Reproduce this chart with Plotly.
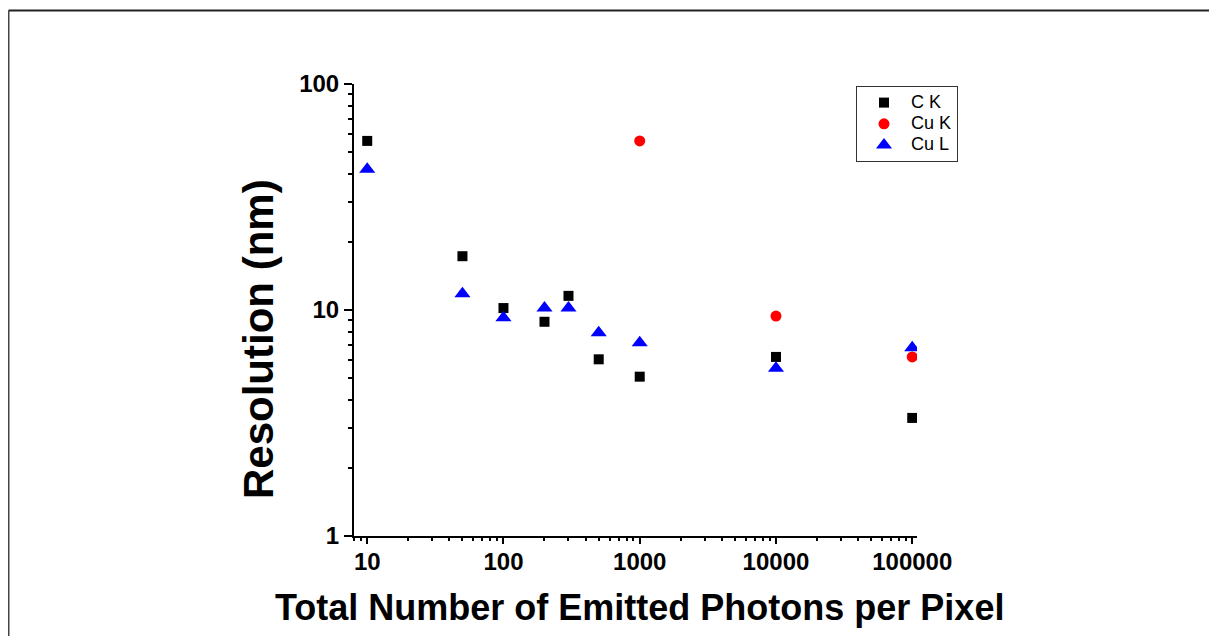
import plotly.graph_objects as go

# ---- data ----
ck_x = [10, 50, 100, 200, 300, 500, 1000, 10000, 100000]
ck_y = [56, 17.3, 10.2, 8.87, 11.55, 6.05, 5.07, 6.2, 3.33]

cuk_x = [1000, 10000, 100000]
cuk_y = [56, 9.4, 6.2]

cul_x = [10, 50, 100, 200, 300, 500, 1000, 10000, 100000]
cul_y = [42, 11.8, 9.25, 10.2, 10.2, 7.94, 7.16, 5.53, 6.8]

series_names = ["C K", "Cu K", "Cu L"]

x_tickvals = [10, 100, 1000, 10000, 100000]
x_ticktext = ["10", "100", "1000", "10000", "100000"]
y_tickvals = [1, 10, 100]
y_ticktext = ["1", "10", "100"]

FONT = "Liberation Sans, Arial, sans-serif"

OFF = 8  # page body margin
W, H = 1217 - OFF, 636 - OFF
L, T = 354 - OFF, 84 - OFF
R, B = 300, 100
PW, PH = W - L - R, H - T - B


def px(xp):
    """page x pixel -> paper coordinate"""
    return (xp - OFF - L) / PW


def py(yp):
    """page y pixel -> paper coordinate"""
    return (H - B - (yp - OFF)) / PH


def leg(name):
    return "<span style='font-size:18px'>" + name + "</span>"


fig = go.Figure()
fig.add_trace(go.Scatter(x=ck_x, y=ck_y, mode="markers", name=leg(series_names[0]),
                         marker=dict(symbol="square", size=10, color="black")))
fig.add_trace(go.Scatter(x=cuk_x, y=cuk_y, mode="markers", name=leg(series_names[1]),
                         marker=dict(symbol="circle", size=11, color="#ff0000")))
fig.add_trace(go.Scatter(x=cul_x, y=cul_y, mode="markers", name=leg(series_names[2]),
                         marker=dict(symbol="triangle-up", size=14, color="#0000ff")))

fig.update_layout(
    width=W, height=H,
    margin=dict(l=L, r=R, t=T, b=B),
    plot_bgcolor="white", paper_bgcolor="white",
    font=dict(family=FONT, color="black"),
    showlegend=True,
    legend=dict(x=px(856), y=py(86), xanchor="left", yanchor="top",
                bordercolor="#333333", borderwidth=1, bgcolor="white",
                font=dict(family=FONT, size=14, color="black"),
                tracegroupgap=0, itemwidth=44),
    xaxis=dict(type="log", range=[0.903, 5.035],
               tickmode="array", tickvals=x_tickvals, ticktext=x_ticktext,
               ticks="outside", ticklen=6, tickwidth=2, tickcolor="black",
               showline=True, linewidth=2, linecolor="black",
               showgrid=False, zeroline=False, ticklabelstandoff=-3,
               tickfont=dict(family=FONT, size=24, color="black", weight="bold"),
               minor=dict(ticks="outside", ticklen=3, tickwidth=1.5,
                          tickcolor="black", dtick="D1", showgrid=False)),
    yaxis=dict(type="log", range=[0, 2],
               tickmode="array", tickvals=y_tickvals, ticktext=y_ticktext,
               ticks="outside", ticklen=8, tickwidth=2, tickcolor="black",
               showline=True, linewidth=2, linecolor="black",
               showgrid=False, zeroline=False,
               tickfont=dict(family=FONT, size=24, color="black", weight="bold"),
               minor=dict(ticks="outside", ticklen=4, tickwidth=1.5,
                          tickcolor="black", dtick="D1", showgrid=False)),
)

fig.add_annotation(text="Resolution (nm)", textangle=-90,
                   xref="paper", yref="paper", x=px(258), y=py(339),
                   xanchor="center", yanchor="middle", showarrow=False,
                   font=dict(family=FONT, size=42, color="black", weight="bold"))
fig.add_annotation(text="Total Number of Emitted Photons per Pixel",
                   xref="paper", yref="paper", x=px(639), y=py(607),
                   xanchor="center", yanchor="middle", showarrow=False,
                   font=dict(family=FONT, size=36, color="black", weight="bold"))

# outer frame lines (top and left)
fig.add_shape(type="line", xref="paper", yref="paper",
              x0=px(8.5), x1=px(1217), y0=py(10.5), y1=py(10.5),
              line=dict(color="#222222", width=2))
fig.add_shape(type="line", xref="paper", yref="paper",
              x0=px(8.5), x1=px(8.5), y0=py(10.5), y1=py(636),
              line=dict(color="#444444", width=2))

fig.write_html("out.html")
